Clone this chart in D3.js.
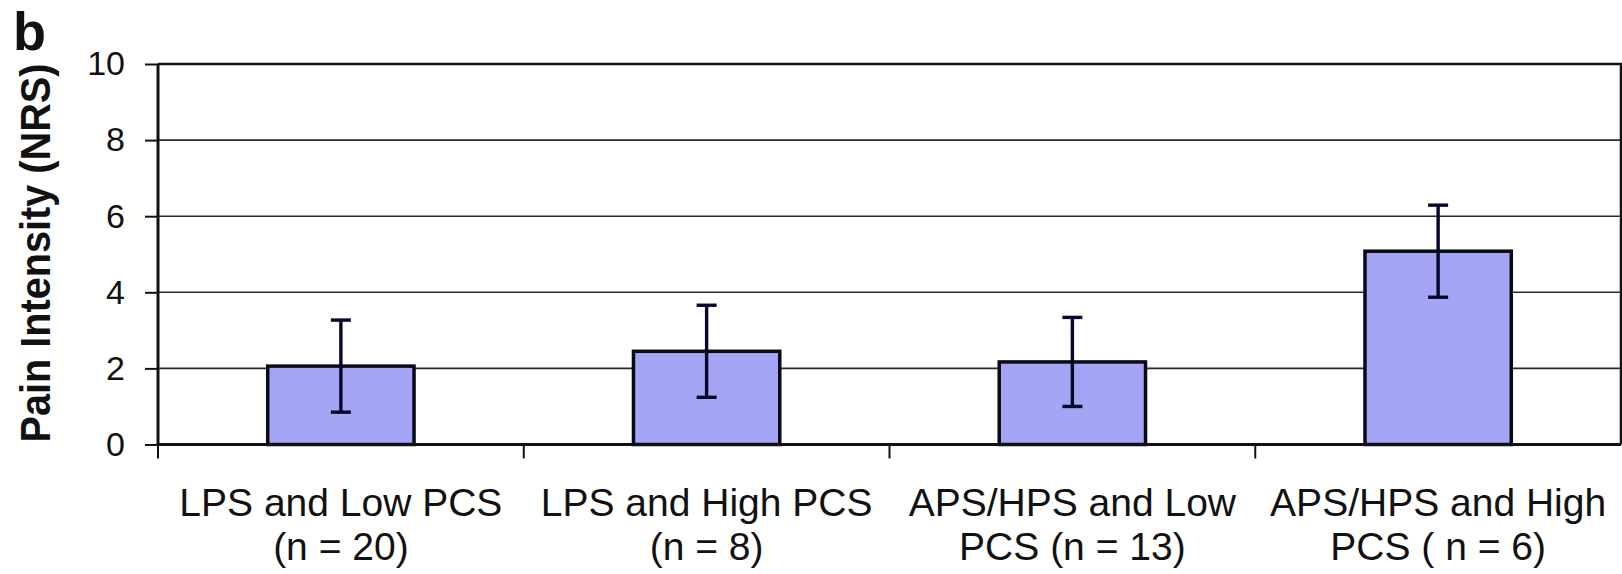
<!DOCTYPE html>
<html>
<head>
<meta charset="utf-8">
<script src="https://cdn.jsdelivr.net/npm/d3@7"></script>
<style>
  html, body { margin: 0; padding: 0; background: #fff; }
  svg { display: block; }
  text { font-family: "Liberation Sans", Arial, Helvetica, sans-serif; fill: #111; }
</style>
</head>
<body>
<svg id="chart" width="1622" height="574"></svg>
<script>
// Group labels (two lines each), group means and standard deviations
const categories = ["LPS-LowPCS", "LPS-HighPCS", "APSHPS-LowPCS", "APSHPS-HighPCS"];
const labelLine1 = ["LPS and Low PCS", "LPS and High PCS", "APS/HPS and Low", "APS/HPS and High"];
const labelLine2 = ["(n = 20)", "(n = 8)", "PCS (n = 13)", "PCS ( n = 6)"];
const meanPain = [2.06, 2.45, 2.17, 5.08];
const sdPain = [1.21, 1.21, 1.17, 1.21];
const yTicks = [0, 2, 4, 6, 8, 10];

const svg = d3.select("#chart");
const plot = { left: 158, right: 1621, top: 64, bottom: 444.5 };

const x = d3.scaleBand()
  .domain(categories)
  .range([plot.left, plot.right])
  .paddingInner(0.6)
  .paddingOuter(0.3);

const y = d3.scaleLinear().domain([0, 10]).range([plot.bottom, plot.top]);

// horizontal gridlines
svg.append("g")
  .selectAll("line")
  .data(yTicks.filter(t => t > 0 && t < 10))
  .join("line")
  .attr("x1", plot.left).attr("x2", plot.right)
  .attr("y1", d => y(d)).attr("y2", d => y(d))
  .attr("stroke", "#2a2a2a").attr("stroke-width", 1.6);

// plot frame: top and right edges
svg.append("path")
  .attr("d", `M${plot.left},${y(10)}H${plot.right}V${y(0)}`)
  .attr("fill", "none").attr("stroke", "#111").attr("stroke-width", 2.5);

// y axis
const yAxis = d3.axisLeft(y).tickValues(yTicks).tickSize(13).tickPadding(20).tickFormat(d3.format("d"));
const gy = svg.append("g").attr("transform", `translate(${plot.left},0)`).call(yAxis);
gy.select(".domain").remove();
gy.selectAll(".tick line").attr("stroke", "#111").attr("stroke-width", 2);
gy.selectAll(".tick text")
  .style("font-family", "'Liberation Sans', Arial, sans-serif")
  .style("font-size", "34px").attr("fill", "#111");

// bars
svg.append("g")
  .selectAll("rect")
  .data(categories)
  .join("rect")
  .attr("x", d => x(d))
  .attr("width", x.bandwidth())
  .attr("y", (d, i) => y(meanPain[i]))
  .attr("height", (d, i) => y(0) - y(meanPain[i]))
  .attr("fill", "#a5a5f5")
  .attr("stroke", "#0a0a14")
  .attr("stroke-width", 3.5);

// error bars (mean ± SD)
const eg = svg.append("g").attr("stroke", "#06062a").attr("stroke-width", 3.4);
const capHalf = 10;
categories.forEach((c, i) => {
  const cx = x(c) + x.bandwidth() / 2;
  const hi = y(meanPain[i] + sdPain[i]);
  const lo = y(meanPain[i] - sdPain[i]);
  eg.append("line").attr("x1", cx).attr("x2", cx).attr("y1", hi).attr("y2", lo);
  eg.append("line").attr("x1", cx - capHalf).attr("x2", cx + capHalf).attr("y1", hi).attr("y2", hi);
  eg.append("line").attr("x1", cx - capHalf).attr("x2", cx + capHalf).attr("y1", lo).attr("y2", lo);
});

// axis lines
svg.append("line")
  .attr("x1", plot.left).attr("x2", plot.left)
  .attr("y1", y(10)).attr("y2", y(0))
  .attr("stroke", "#111").attr("stroke-width", 3);
svg.append("line")
  .attr("x1", plot.left).attr("x2", plot.right)
  .attr("y1", y(0)).attr("y2", y(0))
  .attr("stroke", "#111").attr("stroke-width", 3);

// category separator ticks below the x axis
const boundaries = d3.range(categories.length).map(i => plot.left + i * x.step());
svg.append("g")
  .selectAll("line")
  .data(boundaries)
  .join("line")
  .attr("x1", d => d).attr("x2", d => d)
  .attr("y1", y(0)).attr("y2", y(0) + 14)
  .attr("stroke", "#111").attr("stroke-width", 2);

// category labels
const lg = svg.append("g").attr("text-anchor", "middle").style("font-size", "39px");
categories.forEach((c, i) => {
  const cx = x(c) + x.bandwidth() / 2;
  lg.append("text").attr("x", cx).attr("y", 516).text(labelLine1[i]);
  lg.append("text").attr("x", cx).attr("y", 560).text(labelLine2[i]);
});

// y axis title (bold, slightly condensed)
svg.append("text")
  .attr("transform", `translate(50,253) rotate(-90)`)
  .attr("text-anchor", "middle")
  .attr("textLength", 379)
  .attr("lengthAdjust", "spacingAndGlyphs")
  .style("font-size", "43px")
  .style("font-weight", "bold")
  .text("Pain Intensity (NRS)");

// panel letter
svg.append("text")
  .attr("x", 13).attr("y", 50)
  .style("font-size", "54px")
  .style("font-weight", "bold")
  .text("b");
</script>
</body>
</html>
